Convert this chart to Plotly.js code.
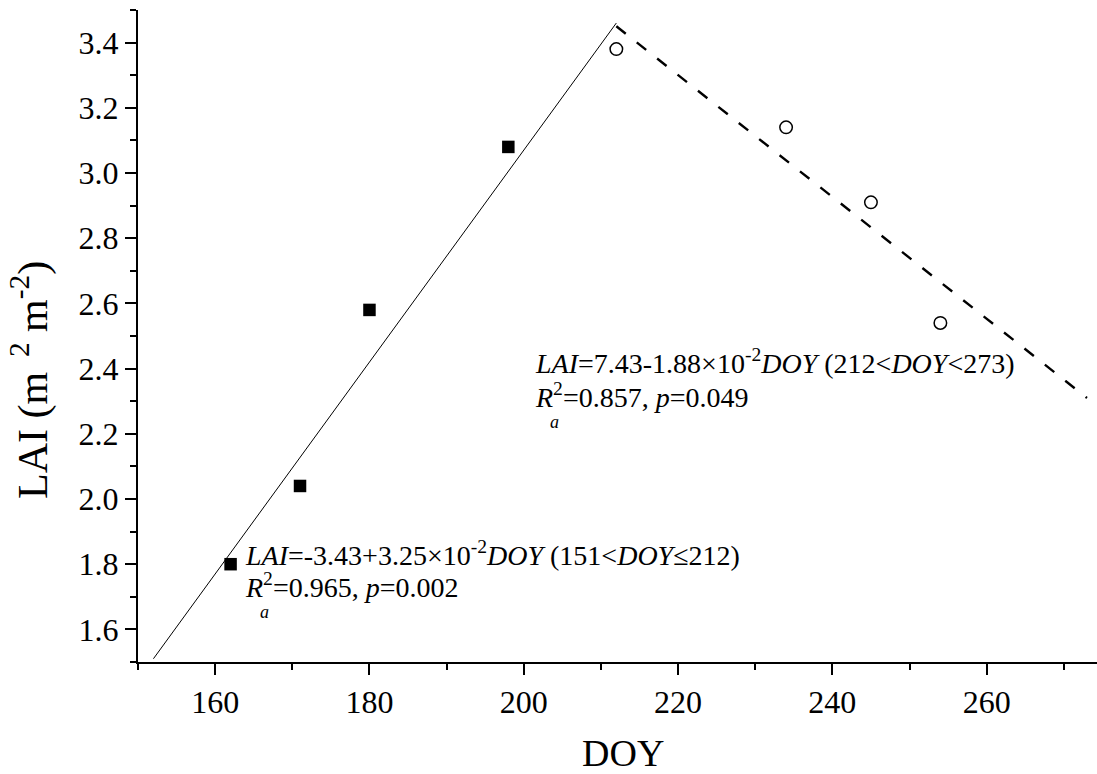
<!DOCTYPE html>
<html>
<head>
<meta charset="utf-8">
<script src="https://cdn.plot.ly/plotly-3.0.1.min.js"></script>
<style>html,body{margin:0;padding:0;background:#fff;}</style>
</head>
<body>
<div id="chart" style="width:1097px;height:774px;"></div>
<script>
// ---- data ----
const doyEarly = [162, 171, 180, 198];
const laiEarly = [1.80, 2.04, 2.58, 3.08];
const doyLate = [212, 234, 245, 254];
const laiLate = [3.38, 3.14, 2.91, 2.54];
const fitEarlyDoy = [152, 212];
const fitEarlyLai = [1.51, 3.46];
const fitLateDoy = [212, 273];
const fitLateLai = [3.45, 2.31];
const xTicks = [160, 180, 200, 220, 240, 260];
const yTicks = [1.6, 1.8, 2.0, 2.2, 2.4, 2.6, 2.8, 3.0, 3.2, 3.4];
const eqEarly1 = "<i>LAI</i>=-3.43+3.25×10<sup>-2</sup><i>DOY</i> (151&lt;<i>DOY</i>≤212)";
const eqEarly2 = "<i>R</i><sup>2</sup>=0.965, <i>p</i>=0.002";
const eqLate1 = "<i>LAI</i>=7.43-1.88×10<sup>-2</sup><i>DOY</i> (212&lt;<i>DOY</i>&lt;273)";
const eqLate2 = "<i>R</i><sup>2</sup>=0.857, <i>p</i>=0.049";
const xTitle = "DOY";
const yTitle = "LAI\u00A0(m<sup>\u00A0\u00A02</sup>\u00A0m<sup>-2</sup>)";

const FONT = "'Liberation Serif', 'Times New Roman', serif";

const traces = [
  {x: fitEarlyDoy, y: fitEarlyLai, mode: 'lines', line: {color: 'black', width: 1}, hoverinfo: 'skip'},
  {x: fitLateDoy, y: fitLateLai, mode: 'lines', line: {color: 'black', width: 2.4, dash: '12px,14px'}, hoverinfo: 'skip'},
  {x: doyEarly, y: laiEarly, mode: 'markers', marker: {symbol: 'square', size: 12.5, color: 'black', line: {width: 0}}},
  {x: doyLate, y: laiLate, mode: 'markers', marker: {symbol: 'circle', size: 12.5, color: 'white', line: {color: 'black', width: 1.5}}}
];

function axisCommon() {
  return {
    showline: true, linewidth: 2, linecolor: 'black', mirror: false,
    showgrid: false, zeroline: false,
    ticks: 'outside', ticklen: 11, tickwidth: 2, tickcolor: 'black',
    tickfont: {family: FONT, size: 32, color: 'black'},
    tickmode: 'array'
  };
}

const layout = {
  width: 1097, height: 774,
  margin: {l: 138, r: 0, t: 10, b: 112},
  paper_bgcolor: 'white', plot_bgcolor: 'white',
  showlegend: false,
  font: {family: FONT, color: 'black', size: 20},
  xaxis: Object.assign(axisCommon(), {
    range: [150, 274.3], tickvals: xTicks, ticktext: xTicks.map(String),
    minor: {ticks: 'outside', dtick: 10, tick0: 150, ticklen: 6, tickwidth: 2, tickcolor: 'black', showgrid: false}
  }),
  yaxis: Object.assign(axisCommon(), {
    range: [1.5, 3.5], tickvals: yTicks, ticktext: yTicks.map(v => v.toFixed(1)),
    minor: {ticks: 'outside', dtick: 0.1, tick0: 1.5, ticklen: 6, tickwidth: 2, tickcolor: 'black', showgrid: false}
  }),
  annotations: [
    {xref: 'x', yref: 'y', x: 163.6, y: 1.832, xanchor: 'left', yanchor: 'middle', showarrow: false, text: eqEarly1, font: {family: FONT, size: 28}},
    {xref: 'x', yref: 'y', x: 163.6, y: 1.735, xanchor: 'left', yanchor: 'middle', showarrow: false, text: eqEarly2, font: {family: FONT, size: 28}},
    {xref: 'x', yref: 'y', x: 165.6, y: 1.652, xanchor: 'left', yanchor: 'middle', showarrow: false, text: "<i>a</i>", font: {family: FONT, size: 18}},
    {xref: 'x', yref: 'y', x: 201.2, y: 2.423, xanchor: 'left', yanchor: 'middle', showarrow: false, text: eqLate1, font: {family: FONT, size: 28}},
    {xref: 'x', yref: 'y', x: 201.2, y: 2.318, xanchor: 'left', yanchor: 'middle', showarrow: false, text: eqLate2, font: {family: FONT, size: 28}},
    {xref: 'x', yref: 'y', x: 203.2, y: 2.236, xanchor: 'left', yanchor: 'middle', showarrow: false, text: "<i>a</i>", font: {family: FONT, size: 18}},
    {xref: 'paper', yref: 'paper', x: 0.506, y: -0.14, xanchor: 'center', yanchor: 'middle', showarrow: false, text: xTitle, font: {family: FONT, size: 38}},
    {xref: 'paper', yref: 'paper', x: -0.112, y: 0.432, xanchor: 'center', yanchor: 'middle', showarrow: false, textangle: -90, text: yTitle, font: {family: FONT, size: 42}}
  ]
};

Plotly.newPlot('chart', traces, layout, {displayModeBar: false, staticPlot: true});
</script>
</body>
</html>
